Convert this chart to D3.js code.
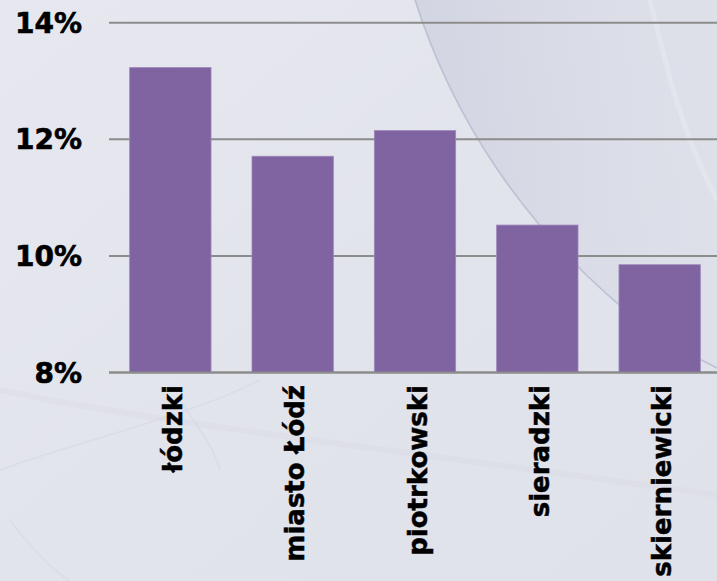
<!DOCTYPE html>
<html><head><meta charset="utf-8">
<script src="https://cdn.jsdelivr.net/npm/d3@7"></script>
<style>html,body{margin:0;padding:0;overflow:hidden;background:#e3e5ed}</style>
</head><body><svg id="c" width="717" height="581"></svg>
<script>
const categories = ["łódzki", "miasto Łódź", "piotrkowski", "sieradzki", "skierniewicki"];
const values = [13.23, 11.71, 12.15, 10.53, 9.85];
const yTicks = [8, 10, 12, 14];
const yTickLabels = ["8%", "10%", "12%", "14%"];

const W = 717, H = 581;
const svg = d3.select("#c");
const defs = svg.append("defs");

// background
const bg = defs.append("linearGradient").attr("id","bg").attr("x1","0").attr("y1","0").attr("x2","1").attr("y2","1");
bg.append("stop").attr("offset","0").attr("stop-color","#e7e8ef");
bg.append("stop").attr("offset","0.5").attr("stop-color","#e2e4ec");
bg.append("stop").attr("offset","1").attr("stop-color","#e0e2eb");
svg.append("rect").attr("width",W).attr("height",H).attr("fill","url(#bg)");

const shade = defs.append("linearGradient").attr("id","shade").attr("x1","0").attr("y1","0").attr("x2","1").attr("y2","0");
shade.append("stop").attr("offset","0").attr("stop-color","#bcc0d4").attr("stop-opacity","0.45");
shade.append("stop").attr("offset","1").attr("stop-color","#d0d3e0").attr("stop-opacity","0.2");
const deco = svg.append("g");
deco.append("path")
  .attr("d","M415,0 C450,110 520,230 650,330 C680,350 705,362 717,368 L717,0 Z")
  .attr("fill","url(#shade)");
deco.append("path")
  .attr("d","M415,0 C450,110 520,230 650,330 C680,350 705,362 717,368")
  .attr("fill","none").attr("stroke","#a4a9c2").attr("stroke-width",1.6).attr("opacity",0.55);
deco.append("path")
  .attr("d","M650,0 C665,60 680,130 717,200")
  .attr("fill","none").attr("stroke","#eef0f6").attr("stroke-width",5).attr("opacity",0.35);
deco.append("path")
  .attr("d","M0,470 C80,440 180,420 260,380 M10,520 C40,560 60,575 70,581 M180,400 C200,430 215,450 220,470")
  .attr("fill","none").attr("stroke","#d3d6e0").attr("stroke-width",1.5).attr("opacity",0.5);
deco.append("path")
  .attr("d","M0,390 C140,420 320,440 717,495")
  .attr("fill","none").attr("stroke","#d6d8e2").attr("stroke-width",6).attr("opacity",0.35);

// scales
const x = d3.scaleBand().domain(categories).range([109, 721]).paddingInner(0.335).paddingOuter(0.169);
const y = d3.scaleLinear().domain([8, 14]).range([372.6, 22.7]);

// gridlines
svg.append("g").selectAll("line").data(yTicks).join("line")
  .attr("x1",109).attr("x2",W)
  .attr("y1",d=>y(d)).attr("y2",d=>y(d))
  .attr("stroke","#8c8c8c").attr("stroke-width",2);

// bars
svg.append("g").selectAll("rect").data(values).join("rect")
  .attr("x",(d,i)=>x(categories[i]))
  .attr("width",x.bandwidth())
  .attr("y",d=>y(d))
  .attr("height",d=>y(8)-y(d))
  .attr("fill","#8064a2")
  .attr("stroke","#9c86bb").attr("stroke-width",0.8);

// redraw baseline over bars
svg.append("line").attr("x1",109).attr("x2",W).attr("y1",y(8)).attr("y2",y(8))
  .attr("stroke","#8c8c8c").attr("stroke-width",2);

// y labels
svg.append("g").selectAll("text").data(yTicks).join("text")
  .attr("x",82).attr("y",d=>y(d)).attr("dy",10)
  .attr("text-anchor","end")
  .attr("font-family","'DejaVu Sans', Verdana, sans-serif")
  .attr("font-weight","bold").attr("font-size",28).attr("fill","#000")
  .attr("stroke","#000").attr("stroke-width",0.6)
  .text((d,i)=>yTickLabels[i]);

// x labels
svg.append("g").selectAll("text").data(categories).join("text")
  .attr("transform",d=>`translate(${x(d)+x.bandwidth()/2+11.5},385) rotate(-90)`)
  .attr("text-anchor","end")
  .attr("font-family","'DejaVu Sans', Verdana, sans-serif")
  .attr("font-weight","bold").attr("font-size",26).attr("fill","#000")
  .attr("stroke","#000").attr("stroke-width",0.5)
  .text(d=>d);
</script>
</body></html>
